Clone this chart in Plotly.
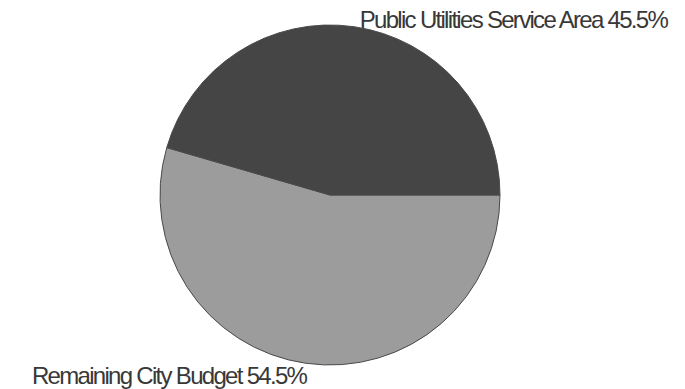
import plotly.graph_objects as go

# Budget share data (drawn clockwise from 3 o'clock)
labels = ["Remaining City Budget", "Public Utilities Service Area"]
values = [54.5, 45.5]
colors = ["#9c9c9c", "#454545"]

W, H = 685, 389

fig = go.Figure()
fig.add_trace(go.Pie(
    labels=labels,
    values=values,
    sort=False,
    direction="clockwise",
    rotation=90,
    textinfo="none",
    hoverinfo="label+percent",
    marker=dict(colors=colors, line=dict(color="#4a4a4a", width=1)),
    domain=dict(x=[160 / W, 500 / W], y=[24 / H, 364 / H]),
    showlegend=False,
))

label_font = dict(family="Liberation Sans, Arial", size=24, color="#383838")

# Public Utilities label, upper right
fig.add_annotation(
    text=f"{labels[1]} {values[1]}%",
    xref="paper", yref="paper",
    x=513 / W, y=1 - 19 / H,
    xanchor="center", yanchor="middle",
    showarrow=False, font=label_font,
)
# Remaining budget label, lower left
fig.add_annotation(
    text=f"{labels[0]} {values[0]}%",
    xref="paper", yref="paper",
    x=169 / W, y=1 - 375 / H,
    xanchor="center", yanchor="middle",
    showarrow=False, font=label_font,
)

fig.update_layout(
    width=W, height=H,
    margin=dict(l=0, r=0, t=0, b=0),
    paper_bgcolor="white",
    plot_bgcolor="white",
)

# tighten the label lettering to a condensed look
condense = """
document.querySelectorAll('.annotation-text').forEach(function (el) {
    el.style.letterSpacing = '-1.7px';
});
"""

fig.write_html("out.html", post_script=condense)
